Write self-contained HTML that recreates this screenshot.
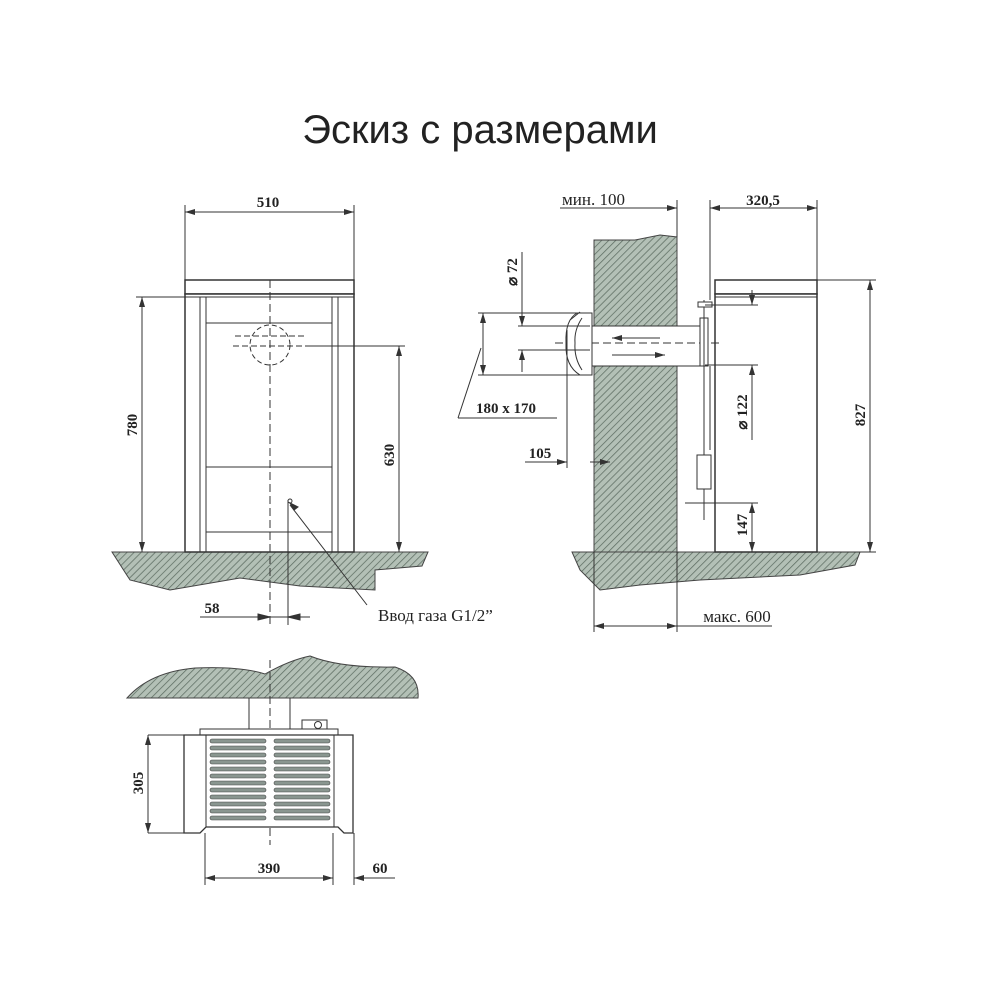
<!DOCTYPE html>
<html><head><meta charset="utf-8"><style>
html,body{margin:0;padding:0;background:#fff;}
svg{display:block;}
.t{font-family:"Liberation Serif",serif;font-weight:bold;font-size:15px;fill:#222;}
.n{font-family:"Liberation Serif",serif;font-size:17px;fill:#222;}
</style></head><body>
<svg width="1000" height="1000" viewBox="0 0 1000 1000" xmlns="http://www.w3.org/2000/svg">
<defs>
<pattern id="h" width="5" height="5" patternUnits="userSpaceOnUse" patternTransform="rotate(45)">
<rect width="5" height="5" fill="#b3c0b6"/><line x1="0" y1="0" x2="0" y2="5" stroke="#5d6d62" stroke-width="1.5"/>
</pattern>
<marker id="a" markerWidth="10" markerHeight="6" refX="10" refY="3" orient="auto-start-reverse" markerUnits="userSpaceOnUse"><path d="M0,0 L10,3 L0,6z" fill="#333"/></marker>
</defs>
<text x="480" y="143" text-anchor="middle" font-family="Liberation Sans,sans-serif" font-size="40" fill="#222">Эскиз с размерами</text>

<g stroke="#333" fill="none" stroke-width="1">
<path d="M112,552 L428,552 L422,566 L375,570 L375,590 L300,586 L240,578 L170,590 L130,580 Z" fill="url(#h)" stroke="#444"/>
<rect x="185" y="280" width="169" height="14" fill="#fff" stroke-width="1.5"/>
<rect x="185" y="294" width="169" height="258" fill="#fff" stroke-width="1.5"/>
<line x1="200" y1="297" x2="200" y2="552"/><line x1="206" y1="297" x2="206" y2="552"/>
<line x1="332" y1="297" x2="332" y2="552"/><line x1="338" y1="297" x2="338" y2="552"/>
<line x1="185" y1="297" x2="354" y2="297"/>
<line x1="206" y1="323" x2="332" y2="323"/><line x1="206" y1="467" x2="332" y2="467"/><line x1="206" y1="532" x2="332" y2="532"/>
<line x1="270" y1="280" x2="270" y2="625" stroke-dasharray="8,4"/>
<circle cx="270" cy="345" r="20" stroke-dasharray="5,3"/>
<line x1="235" y1="336" x2="305" y2="336" stroke-dasharray="6,3"/>
<line x1="233" y1="346" x2="305" y2="346" stroke-dasharray="6,3"/>
<line x1="305" y1="346" x2="405" y2="346"/>
<line x1="185" y1="280" x2="185" y2="205"/><line x1="354" y1="280" x2="354" y2="205"/>
<line x1="185" y1="212" x2="354" y2="212" marker-start="url(#a)" marker-end="url(#a)"/>
<line x1="136" y1="297" x2="185" y2="297"/>
<line x1="142" y1="297" x2="142" y2="552" marker-start="url(#a)" marker-end="url(#a)"/>
<line x1="399" y1="346" x2="399" y2="552" marker-start="url(#a)" marker-end="url(#a)"/>
<line x1="288" y1="500" x2="288" y2="625"/>
<line x1="200" y1="617" x2="310" y2="617"/>
<path d="M258,614 L270,617 L258,620z M300,614 L288,617 L300,620z" fill="#333"/>
<line x1="290" y1="505" x2="367" y2="605"/>
<path d="M290,503 l8,4 l-4,3z" fill="#333"/>
<circle cx="290" cy="501" r="2"/>

<path d="M572,552 L860,552 L855,565 L800,575 L700,580 L640,585 L600,590 L580,570 Z" fill="url(#h)" stroke="#444"/>
<path d="M594,240 L635,240 L660,235 L677,237 L677,552 L594,552 Z" fill="url(#h)" stroke="#444"/>
<rect x="715" y="280" width="102" height="14" fill="#fff" stroke-width="1.5"/>
<rect x="715" y="294" width="102" height="258" fill="#fff" stroke-width="1.5"/>
<line x1="715" y1="297" x2="817" y2="297"/>
<rect x="590" y="326" width="115" height="40" fill="#fff"/>
<line x1="555" y1="343" x2="720" y2="343" stroke-dasharray="8,4"/>
<line x1="612" y1="338" x2="660" y2="338" marker-start="url(#a)"/>
<line x1="612" y1="355" x2="665" y2="355" marker-end="url(#a)"/>
<path d="M577,313 Q565,320 566,343 Q565,366 580,375 L592,375 L592,313 Z" fill="#fff"/>
<path d="M570,320 L580,312 M582,318 Q574,330 575,343 Q574,358 582,370"/>
<rect x="700" y="318" width="8" height="48" fill="#fff"/>
<line x1="704" y1="300" x2="704" y2="520"/><line x1="710" y1="366" x2="710" y2="450"/>
<rect x="698" y="302" width="14" height="5" fill="#fff"/>
<rect x="697" y="455" width="14" height="34" fill="#fff"/>
<line x1="677" y1="200" x2="677" y2="237"/><line x1="710" y1="200" x2="710" y2="300"/><line x1="817" y1="200" x2="817" y2="280"/>
<line x1="560" y1="208" x2="677" y2="208" marker-end="url(#a)"/>
<line x1="710" y1="208" x2="817" y2="208" marker-start="url(#a)" marker-end="url(#a)"/>
<line x1="817" y1="280" x2="876" y2="280"/><line x1="817" y1="552" x2="876" y2="552"/>
<line x1="870" y1="280" x2="870" y2="552" marker-start="url(#a)" marker-end="url(#a)"/>
<line x1="478" y1="313" x2="578" y2="313"/><line x1="478" y1="375" x2="590" y2="375"/>
<line x1="483" y1="313" x2="483" y2="375" marker-start="url(#a)" marker-end="url(#a)"/>
<line x1="518" y1="326" x2="590" y2="326"/><line x1="518" y1="350" x2="590" y2="350"/>
<line x1="522" y1="252" x2="522" y2="326" marker-end="url(#a)"/>
<line x1="522" y1="372" x2="522" y2="350" marker-end="url(#a)"/>
<line x1="481" y1="348" x2="458" y2="418"/><line x1="458" y1="418" x2="557" y2="418"/>
<line x1="567" y1="330" x2="567" y2="468"/>
<line x1="525" y1="462" x2="567" y2="462" marker-end="url(#a)"/>
<line x1="590" y1="462" x2="610" y2="462" marker-end="url(#a)"/>
<line x1="705" y1="305" x2="758" y2="305"/><line x1="705" y1="365" x2="758" y2="365"/>
<line x1="752" y1="290" x2="752" y2="305" marker-end="url(#a)"/>
<line x1="752" y1="440" x2="752" y2="365" marker-end="url(#a)"/>
<line x1="685" y1="503" x2="758" y2="503"/>
<line x1="752" y1="503" x2="752" y2="552" marker-start="url(#a)" marker-end="url(#a)"/>
<line x1="594" y1="552" x2="594" y2="632"/><line x1="677" y1="552" x2="677" y2="632"/>
<line x1="594" y1="626" x2="677" y2="626" marker-start="url(#a)" marker-end="url(#a)"/>
<line x1="677" y1="626" x2="772" y2="626"/>

<path d="M127,698 Q150,672 195,668 Q240,666 265,674 Q290,660 310,656 Q340,668 395,667 Q420,675 418,698 Z" fill="url(#h)" stroke="#444"/>
<line x1="249" y1="698" x2="249" y2="729"/><line x1="290" y1="698" x2="290" y2="729"/>
<line x1="270" y1="660" x2="270" y2="845" stroke-dasharray="8,4"/>
<rect x="200" y="729" width="138" height="6" fill="#fff"/>
<rect x="302" y="720" width="25" height="9" fill="#fff"/>
<circle cx="318" cy="725" r="3.5"/>
<path d="M184,735 L353,735 L353,833 L344,833 L338,827 L206,827 L200,833 L184,833 Z" fill="#fff" stroke-width="1.3"/>
<line x1="206" y1="735" x2="206" y2="827"/><line x1="334" y1="735" x2="334" y2="827"/>
<line x1="148" y1="735" x2="184" y2="735"/><line x1="148" y1="833" x2="184" y2="833"/>
<line x1="148" y1="735" x2="148" y2="833" marker-start="url(#a)" marker-end="url(#a)"/>
<line x1="205" y1="833" x2="205" y2="885"/><line x1="333" y1="833" x2="333" y2="885"/><line x1="354" y1="833" x2="354" y2="885"/>
<line x1="205" y1="878" x2="333" y2="878" marker-start="url(#a)" marker-end="url(#a)"/>
<line x1="354" y1="878" x2="395" y2="878" marker-start="url(#a)"/>
</g>
<g fill="#8a9690" stroke="#444" stroke-width="0.6">
<rect x="210" y="739" width="56" height="4" rx="2"/><rect x="274" y="739" width="56" height="4" rx="2"/>
<rect x="210" y="746" width="56" height="4" rx="2"/><rect x="274" y="746" width="56" height="4" rx="2"/>
<rect x="210" y="753" width="56" height="4" rx="2"/><rect x="274" y="753" width="56" height="4" rx="2"/>
<rect x="210" y="760" width="56" height="4" rx="2"/><rect x="274" y="760" width="56" height="4" rx="2"/>
<rect x="210" y="767" width="56" height="4" rx="2"/><rect x="274" y="767" width="56" height="4" rx="2"/>
<rect x="210" y="774" width="56" height="4" rx="2"/><rect x="274" y="774" width="56" height="4" rx="2"/>
<rect x="210" y="781" width="56" height="4" rx="2"/><rect x="274" y="781" width="56" height="4" rx="2"/>
<rect x="210" y="788" width="56" height="4" rx="2"/><rect x="274" y="788" width="56" height="4" rx="2"/>
<rect x="210" y="795" width="56" height="4" rx="2"/><rect x="274" y="795" width="56" height="4" rx="2"/>
<rect x="210" y="802" width="56" height="4" rx="2"/><rect x="274" y="802" width="56" height="4" rx="2"/>
<rect x="210" y="809" width="56" height="4" rx="2"/><rect x="274" y="809" width="56" height="4" rx="2"/>
<rect x="210" y="816" width="56" height="4" rx="2"/><rect x="274" y="816" width="56" height="4" rx="2"/>
</g>

<text class="t" x="268" y="207" text-anchor="middle">510</text>
<text class="t" transform="translate(142,425) rotate(-90)" text-anchor="middle" dy="-5">780</text>
<text class="t" transform="translate(399,455) rotate(-90)" text-anchor="middle" dy="-5">630</text>
<text class="t" x="212" y="613" text-anchor="middle">58</text>
<text class="n" x="378" y="621">Ввод газа G1/2”</text>

<text class="n" x="562" y="205">мин. 100</text>
<text class="t" x="763" y="205" text-anchor="middle">320,5</text>
<text class="t" transform="translate(870,415) rotate(-90)" text-anchor="middle" dy="-5">827</text>
<text class="t" transform="translate(522,272) rotate(-90)" text-anchor="middle" dy="-5">⌀ 72</text>
<text class="t" x="506" y="413" text-anchor="middle">180 x 170</text>
<text class="t" x="540" y="458" text-anchor="middle">105</text>
<text class="t" transform="translate(752,412) rotate(-90)" text-anchor="middle" dy="-5">⌀ 122</text>
<text class="t" transform="translate(752,525) rotate(-90)" text-anchor="middle" dy="-5">147</text>
<text class="n" x="737" y="622" text-anchor="middle">макс. 600</text>

<text class="t" transform="translate(148,783) rotate(-90)" text-anchor="middle" dy="-5">305</text>
<text class="t" x="269" y="873" text-anchor="middle">390</text>
<text class="t" x="380" y="873" text-anchor="middle">60</text>
</svg>
</body></html>
